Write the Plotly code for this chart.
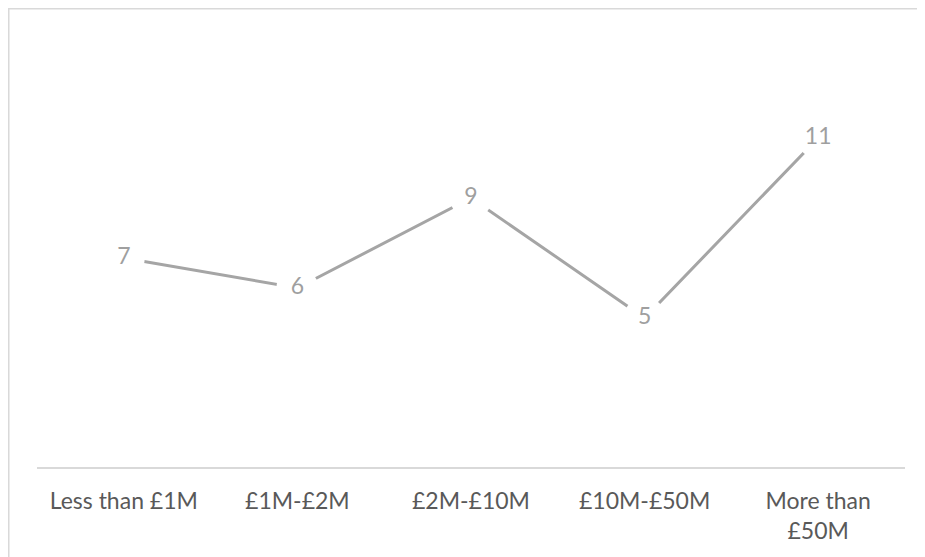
import plotly.graph_objects as go

categories = ["Less than £1M", "£1M-£2M", "£2M-£10M", "£10M-£50M", "More than<br>£50M"]
values = [7, 6, 9, 5, 11]

fig = go.Figure()
fig.add_trace(go.Scatter(
    x=categories,
    y=values,
    mode="lines+markers+text",
    text=[str(v) for v in values],
    textposition="middle center",
    textfont=dict(family="Lato, Open Sans, sans-serif", size=23, color="#9f9f9f"),
    line=dict(color="#a5a5a5", width=3),
    marker=dict(color="white", size=42, line=dict(width=0)),
    hoverinfo="skip",
    cliponaxis=False,
))

fig.update_layout(
    width=917,
    height=549,
    margin=dict(l=29, r=20, t=40, b=89),
    paper_bgcolor="white",
    plot_bgcolor="white",
    showlegend=False,
    font=dict(family="Lato, Open Sans, sans-serif", color="#595959"),
    xaxis=dict(
        range=[-0.5, 4.5],
        showgrid=False,
        zeroline=False,
        showline=False,
        ticks="",
        ticklabelstandoff=17,
        tickfont=dict(size=23, color="#595959"),
        fixedrange=True,
    ),
    yaxis=dict(
        range=[0, 14],
        showgrid=False,
        zeroline=True,
        zerolinecolor="#d9d9d9",
        zerolinewidth=2,
        showline=False,
        showticklabels=False,
        ticks="",
        fixedrange=True,
    ),
    shapes=[dict(
        type="rect", xref="paper", yref="paper",
        x0=-0.0328, x1=1.03, y0=-0.22, y1=1.094,
        line=dict(color="#d9d9d9", width=2),
        fillcolor="rgba(0,0,0,0)",
        layer="below",
    )],
)

fig.write_html("out.html")
